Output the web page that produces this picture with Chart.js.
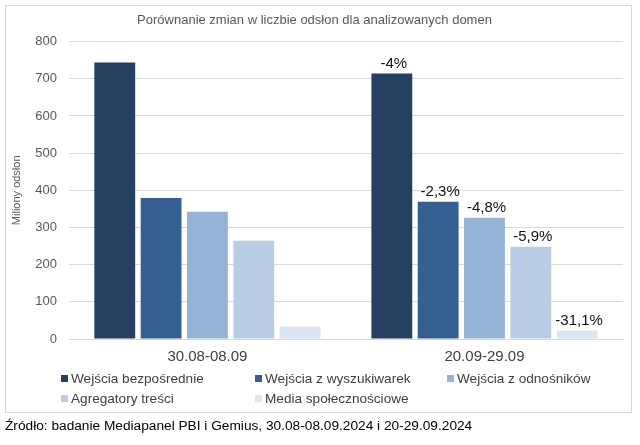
<!DOCTYPE html>
<html>
<head>
<meta charset="utf-8">
<script src="https://cdn.jsdelivr.net/npm/chart.js@4"></script>
<style>
  body { margin: 0; background: #fff; font-family: "Liberation Sans", Arial, sans-serif; }
  .ramka { position: absolute; left: 5px; top: 5px; width: 625px; height: 406px; border: 1px solid #d9d9d9; }
  .wykres { position: absolute; left: 0; top: 0; width: 625px; height: 369px; }
  .legenda { position: absolute; left: 0; top: 0; width: 625px; height: 406px; pointer-events: none; }
  .poz { position: absolute; font-size: 13.6px; color: #404040; white-space: nowrap; line-height: 16px; }
  .poz span.kw { display: inline-block; width: 7px; height: 7px; margin-right: 3px; vertical-align: 1px; }
  .zrodlo { position: absolute; left: 5px; top: 418px; font-size: 13.7px; color: #000; }
</style>
</head>
<body>
<div class="ramka">
  <div class="wykres"><canvas id="c"></canvas></div>
  <div class="legenda" id="leg"></div>
</div>
<div class="zrodlo">Źródło: badanie Mediapanel PBI i Gemius, 30.08-08.09.2024 i 20-29.09.2024</div>
<script>
const okresy = ["30.08-08.09", "20.09-29.09"];
const serie = ["Wejścia bezpośrednie", "Wejścia z wyszukiwarek", "Wejścia z odnośników", "Agregatory treści", "Media społecznościowe"];
const bezposrednie = [744, 714];
const wyszukiwarki = [379, 369];
const odnosniki = [342, 326];
const agregatory = [264, 248];
const media = [33, 23];
const zmiany = ["-4%", "-2,3%", "-4,8%", "-5,9%", "-31,1%"];
const kolory = ["#253f60", "#365f91", "#95b3d7", "#b9cde5", "#dce6f2"];

const wartosci = [bezposrednie, wyszukiwarki, odnosniki, agregatory, media];

// etykiety zmian nad slupkami drugiego okresu
const etykietyZmian = {
  id: "etykietyZmian",
  afterDatasetsDraw(chart) {
    const ctx = chart.ctx;
    ctx.save();
    ctx.font = '15px "Liberation Sans", Arial, sans-serif';
    ctx.fillStyle = "#111";
    ctx.textAlign = "center";
    ctx.textBaseline = "bottom";
    chart.data.datasets.forEach((ds, i) => {
      const bar = chart.getDatasetMeta(i).data[1];
      ctx.fillText(zmiany[i], bar.x + 2, bar.y - 2);
    });
    ctx.restore();
  }
};

new Chart(document.getElementById("c"), {
  type: "bar",
  data: {
    labels: okresy,
    datasets: serie.map((s, i) => ({
      label: s,
      data: wartosci[i],
      backgroundColor: kolory[i],
      borderWidth: 0,
      categoryPercentage: 0.836,
      barPercentage: 0.882
    }))
  },
  options: {
    responsive: true,
    maintainAspectRatio: false,
    animation: false,
    layout: { padding: { left: 0, right: 8, top: 0, bottom: 0 } },
    plugins: {
      legend: { display: false },
      tooltip: { enabled: false },
      title: {
        display: true,
        text: "Porównanie zmian w liczbie odsłon dla analizowanych domen",
        color: "#595959",
        font: { family: '"Liberation Sans", Arial, sans-serif', size: 13, weight: "normal" },
        padding: { top: 7, bottom: 13 }
      }
    },
    scales: {
      x: {
        grid: { display: false, drawTicks: false },
        border: { display: false },
        ticks: { color: "#404040", padding: 9, font: { family: '"Liberation Sans", Arial, sans-serif', size: 15 } }
      },
      y: {
        min: 0,
        max: 800,
        ticks: { stepSize: 100, color: "#595959", padding: 12, font: { family: '"Liberation Sans", Arial, sans-serif', size: 13 } },
        grid: { color: "#d9d9d9", drawTicks: false },
        border: { display: false },
        title: {
          display: true,
          text: "Miliony odsłon",
          color: "#595959",
          font: { family: '"Liberation Sans", Arial, sans-serif', size: 11 },
          padding: { top: 4, bottom: 0 }
        }
      }
    }
  },
  plugins: [etykietyZmian]
});

// legenda w siatce jak w oryginale
const kolumny = [55, 249, 441];
const wiersze = [365, 385];
const leg = document.getElementById("leg");
serie.forEach((s, i) => {
  const el = document.createElement("div");
  el.className = "poz";
  el.style.left = kolumny[i % 3] + "px";
  el.style.top = wiersze[Math.floor(i / 3)] + "px";
  el.innerHTML = '<span class="kw" style="background:' + kolory[i] + '"></span>' + s;
  leg.appendChild(el);
});
</script>
</body>
</html>
